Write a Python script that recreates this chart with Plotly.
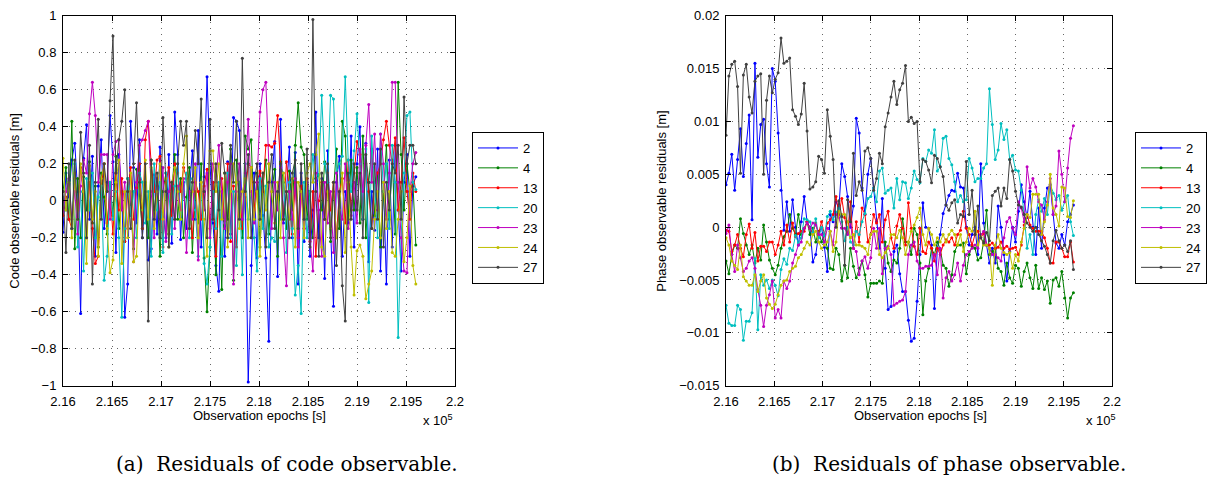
import plotly.graph_objects as go

# ---------------- data ----------------
epoch_start = 216000
epoch_step = 30
sat_names = ["2", "4", "13", "20", "23", "24", "27"]
sat_colors = ["#0000ff", "#008000", "#ff0000", "#00bfbf", "#bf00bf", "#bfbf00", "#404040"]

x_tick_vals = [216000, 216500, 217000, 217500, 218000, 218500, 219000, 219500, 220000]
x_tick_labels = ["2.16", "2.165", "2.17", "2.175", "2.18", "2.185", "2.19", "2.195", "2.2"]
code_y_ticks = [-1, -0.8, -0.6, -0.4, -0.2, 0, 0.2, 0.4, 0.6, 0.8, 1]
code_y_labels = ["\u22121", "\u22120.8", "\u22120.6", "\u22120.4", "\u22120.2", "0", "0.2", "0.4", "0.6", "0.8", "1"]
phase_y_ticks = [-0.015, -0.01, -0.005, 0, 0.005, 0.01, 0.015, 0.02]
phase_y_labels = ["\u22120.015", "\u22120.01", "\u22120.005", "0", "0.005", "0.01", "0.015", "0.02"]

# code residuals [m]
code_2 = [-0.17, 0.15, 0.02, 0.22, 0.31, 0.05, -0.61, 0.23, 0.41, -0.10,
          0.24, -0.30, 0.08, 0.33, -0.15, 0.10, 0.46, 0.21, -0.28, 0.25,
          0.05, -0.63, -0.45, 0.43, 0.18, -0.12, 0.33, -0.20, 0.05, -0.32,
          -0.26, 0.14, -0.18, 0.29, -0.06, -0.20, 0.25, -0.23, 0.48, 0.25,
          -0.21, 0.10, -0.15, 0.05, 0.27, -0.10, 0.38, -0.25, 0.13, 0.67,
          0.20, -0.12, -0.35, -0.49, 0.05, -0.30, 0.21, -0.18, 0.45, 0.43,
          0.38, -0.10, 0.02, -0.98, -0.35, 0.15, -0.31, 0.20, -0.08, -0.31,
          -0.76, 0.10, 0.32, -0.41, 0.44, -0.12, 0.05, 0.29, -0.20, 0.26,
          -0.45, 0.15, -0.22, 0.08, -0.30, -0.05, 0.48, -0.20, 0.12, -0.42,
          0.27, -0.15, -0.57, 0.10, 0.24, -0.30, 0.05, -0.12, 0.35, -0.25,
          0.20, 0.40, -0.10, 0.31, -0.33, 0.05, -0.16, 0.28, -0.38, 0.10,
          -0.45, 0.22, -0.25, 0.30, -0.05, -0.38, 0.10, 0.25, -0.30, 0.08,
          0.13]
code_4 = [0.05, 0.18, -0.10, 0.43, -0.26, 0.12, -0.20, 0.13, -0.05, 0.21,
          -0.12, 0.08, -0.25, 0.15, 0.02, -0.18, 0.10, -0.08, 0.24, -0.15,
          0.05, -0.22, 0.12, -0.02, -0.26, 0.17, 0.03, -0.15, 0.10, -0.20,
          0.22, -0.05, 0.08, -0.30, 0.05, 0.15, -0.18, 0.02, 0.25, -0.10,
          0.12, -0.20, 0.02, 0.18, -0.28, 0.05, -0.12, 0.20, -0.31, -0.60,
          -0.25, 0.10, -0.40, 0.05, -0.48, 0.15, -0.10, 0.28, -0.43, 0.22,
          0.02, -0.20, 0.35, 0.28, 0.33, -0.10, 0.15, -0.25, 0.08, 0.22,
          -0.18, 0.05, 0.17, -0.30, 0.21, 0.10, -0.15, 0.16, -0.05, 0.30,
          0.53, 0.29, 0.25, -0.10, 0.05, -0.20, 0.12, 0.14, -0.05, 0.21,
          0.10, -0.22, 0.05, 0.28, -0.15, 0.43, 0.35, -0.10, 0.22, -0.05,
          0.18, -0.12, 0.35, -0.20, 0.10, 0.28, -0.08, 0.15, -0.25, 0.05,
          0.30, -0.10, 0.22, -0.18, 0.64, 0.25, -0.05, 0.20, 0.05, 0.10,
          -0.24]
code_13 = [-0.08, 0.02, -0.10, -0.15, 0.12, -0.05, 0.18, 0.05, -0.20, 0.10,
           -0.15, -0.34, -0.30, 0.08, 0.20, -0.12, 0.05, -0.18, 0.15, -0.05,
           0.12, -0.22, 0.05, 0.18, -0.10, 0.07, 0.20, -0.15, 0.33, 0.43,
           0.20, 0.05, 0.22, 0.24, -0.25, 0.10, 0.18, -0.08, 0.20, 0.15,
           0.05, 0.18, 0.12, -0.05, -0.20, 0.10, 0.05, -0.10, 0.08, 0.17,
           -0.15, 0.10, -0.30, 0.05, 0.12, -0.12, 0.20, -0.22, 0.08, -0.25,
           0.10, -0.15, 0.05, 0.20, 0.18, -0.05, 0.10, 0.16, 0.05, 0.30,
           0.30, 0.29, 0.31, 0.46, 0.20, -0.10, 0.21, 0.05, -0.18, 0.10,
           -0.20, 0.08, -0.15, 0.12, -0.22, 0.05, -0.30, 0.00, 0.10, -0.10,
           0.15, -0.05, 0.10, -0.20, 0.05, 0.12, -0.12, 0.22, -0.05, 0.15,
           0.32, 0.25, -0.10, 0.20, 0.05, -0.15, 0.10, 0.15, 0.20, 0.33,
           0.43, 0.30, 0.20, 0.34, -0.05, 0.10, 0.34, 0.05, -0.10, 0.15,
           0.05]
code_20 = [0.02, -0.05, 0.10, -0.15, 0.20, -0.25, 0.05, -0.38, 0.12, -0.05,
           0.15, -0.20, 0.02, 0.08, -0.43, -0.30, 0.10, -0.10, 0.05, -0.20,
           -0.63, -0.15, 0.12, -0.08, 0.05, -0.20, 0.15, 0.10, -0.12, 0.05,
           -0.30, 0.20, -0.05, 0.10, -0.28, 0.15, 0.05, -0.18, 0.08, 0.20,
           -0.10, 0.05, 0.15, -0.20, 0.12, -0.05, -0.30, 0.10, -0.34, -0.45,
           -0.25, 0.05, -0.15, 0.10, -0.30, -0.12, 0.15, -0.20, 0.05, -0.35,
           0.10, -0.40, 0.20, -0.10, 0.05, -0.20, -0.38, 0.12, -0.15, 0.08,
           -0.25, -0.20, -0.22, 0.05, -0.10, 0.15, -0.28, 0.10, -0.15, -0.51,
           -0.35, -0.61, 0.10, -0.20, 0.05, 0.25, 0.10, 0.14, 0.57, 0.20,
           0.10, 0.57, 0.55, 0.15, 0.20, 0.24, 0.67, 0.22, 0.05, 0.27,
           0.47, 0.20, -0.10, 0.28, -0.55, 0.35, 0.10, -0.20, 0.36, 0.05,
           0.20, -0.15, 0.30, 0.10, -0.74, -0.20, 0.15, 0.46, 0.48, 0.10,
           0.06]
code_23 = [-0.06, 0.05, 0.12, -0.10, 0.05, -0.18, 0.08, 0.22, 0.15, 0.47,
           0.64, 0.46, 0.10, 0.25, 0.25, 0.25, -0.10, 0.25, 0.32, 0.33,
           -0.05, 0.10, -0.15, 0.05, -0.33, 0.10, 0.30, 0.33, 0.38, 0.43,
           0.05, -0.20, 0.12, -0.10, 0.18, -0.22, 0.05, 0.10, -0.15, 0.08,
           -0.05, 0.12, -0.28, 0.05, -0.10, 0.20, -0.32, 0.10, -0.05, 0.15,
           -0.20, 0.20, 0.10, 0.30, 0.05, -0.15, 0.10, 0.20, -0.45, 0.05,
           0.20, -0.10, 0.15, 0.44, 0.05, -0.12, 0.10, 0.48, 0.60, 0.64,
           0.20, -0.15, 0.10, -0.05, 0.18, -0.20, -0.46, 0.05, -0.10, 0.12,
           -0.25, 0.05, -0.15, 0.10, -0.20, -0.38, 0.15, -0.05, -0.30, 0.10,
           -0.12, 0.05, -0.28, 0.15, -0.05, -0.10, 0.20, -0.15, -0.08, 0.10,
           -0.12, 0.28, 0.05, 0.30, 0.52, 0.10, 0.36, -0.05, 0.36, 0.20,
           -0.10, 0.15, 0.64, 0.64, 0.10, -0.20, -0.38, -0.39, 0.05, 0.20,
           0.26]
code_24 = [0.23, -0.05, 0.10, -0.20, 0.15, -0.10, 0.20, 0.05, -0.34, 0.19,
           -0.10, 0.05, -0.30, 0.12, 0.20, -0.15, -0.39, -0.32, 0.10, 0.22,
           -0.34, 0.05, -0.20, 0.15, -0.33, -0.30, 0.10, -0.05, 0.22, -0.10,
           0.18, -0.15, 0.05, 0.20, -0.10, 0.12, -0.25, 0.10, 0.18, 0.05,
           -0.10, 0.20, 0.35, -0.15, 0.05, 0.18, -0.20, 0.10, -0.10, -0.30,
           0.27, 0.27, 0.05, 0.20, -0.10, 0.15, -0.25, 0.05, 0.20, 0.10,
           -0.15, 0.05, 0.12, -0.20, 0.18, -0.10, 0.05, -0.30, 0.15, -0.05,
           0.20, 0.05, -0.12, 0.10, -0.20, 0.15, 0.05, -0.10, 0.12, -0.25,
           0.10, 0.05, -0.20, 0.15, 0.20, 0.10, 0.25, 0.36, -0.25, -0.30,
           0.05, -0.15, 0.10, -0.20, -0.05, 0.15, -0.28, 0.10, -0.25, -0.51,
           -0.27, -0.24, -0.30, -0.53, -0.45, -0.38, -0.10, 0.05, -0.20, 0.10,
           -0.15, 0.05, -0.28, -0.30, -0.10, 0.05, -0.33, -0.20, 0.08, -0.35,
           -0.45]
code_27 = [0.05, -0.28, 0.20, -0.15, 0.22, -0.10, 0.37, 0.15, -0.20, 0.30,
           -0.45, 0.10, 0.44, -0.10, 0.20, 0.05, 0.54, 0.89, 0.15, 0.33,
           0.43, 0.60, 0.05, -0.15, 0.20, 0.53, 0.10, -0.20, 0.20, -0.65,
           0.22, -0.10, 0.15, -0.20, 0.45, 0.05, -0.25, 0.10, -0.10, 0.20,
           0.43, 0.30, 0.43, -0.15, 0.10, 0.38, 0.20, 0.55, 0.05, -0.20,
           0.44, -0.10, 0.20, -0.05, 0.31, 0.15, -0.20, 0.30, 0.10, 0.43,
           -0.10, 0.77, 0.05, 0.25, -0.20, 0.10, 0.20, -0.10, 0.15, -0.25,
           0.10, 0.25, -0.15, 0.05, 0.20, -0.10, 0.05, -0.20, 0.15, 0.22,
           -0.15, 0.20, -0.10, 0.28, -0.25, 0.98, 0.05, -0.30, 0.15, -0.10,
           0.20, -0.20, 0.10, -0.35, 0.05, -0.46, -0.65, 0.15, -0.10, 0.20,
           -0.05, 0.15, -0.20, 0.25, 0.10, -0.15, 0.20, -0.10, 0.28, -0.25,
           0.10, -0.05, 0.20, 0.15, 0.30, -0.10, 0.56, 0.20, 0.30, 0.30,
           0.20]

# phase residuals [m]
phase_2 = [0.0040, 0.0051, 0.0069, 0.0035, 0.0064, 0.0093, 0.0048, 0.0079, 0.0106, 0.0007,
           0.0155, 0.0066, 0.0097, 0.0102, 0.0060, 0.0038, 0.0150, 0.0138, 0.0089, 0.0035,
           -0.0003, 0.0024, -0.0004, 0.0026, 0.0000, -0.0017, 0.0005, 0.0029, 0.0005, 0.0000,
           -0.0033, -0.0026, -0.0007, 0.0000, -0.0019, -0.0042, 0.0012, 0.0005, 0.0024, 0.0018,
           0.0060, 0.0048, 0.0029, 0.0000, 0.0020, 0.0103, 0.0089, 0.0037, 0.0012, 0.0050,
           0.0065, 0.0037, 0.0005, -0.0020, 0.0027, -0.0039, -0.0078, -0.0075, -0.0023, -0.0017,
           -0.0044, -0.0061, -0.0061, -0.0088, -0.0108, -0.0105, -0.0070, -0.0026, 0.0023, 0.0000,
           -0.0001, -0.0017, -0.0077, -0.0020, -0.0007, 0.0013, 0.0021, 0.0030, 0.0035, 0.0034,
           0.0051, 0.0038, 0.0037, 0.0000, -0.0017, -0.0007, 0.0000, -0.0026, 0.0060, 0.0004,
           -0.0017, -0.0034, -0.0020, -0.0034, 0.0020, 0.0000, -0.0026, -0.0051, -0.0023, 0.0000,
           -0.0014, 0.0015, 0.0040, 0.0024, 0.0009, 0.0034, 0.0000, -0.0026, 0.0018, -0.0020,
           0.0018, 0.0037, 0.0040, 0.0012, -0.0015, -0.0020, -0.0007, -0.0017, 0.0005, 0.0012,
           0.0021]
phase_4 = [-0.0032, -0.0044, -0.0026, -0.0017, -0.0020, 0.0008, -0.0006, -0.0017, -0.0026, -0.0017,
           -0.0034, -0.0020, -0.0031, 0.0002, -0.0014, -0.0031, -0.0039, -0.0045, -0.0036, -0.0020,
           -0.0009, -0.0004, 0.0012, -0.0001, -0.0007, 0.0012, -0.0007, -0.0001, 0.0005, -0.0007,
           -0.0001, -0.0014, -0.0004, -0.0014, -0.0007, -0.0020, -0.0039, -0.0040, -0.0020, -0.0026,
           -0.0051, -0.0036, -0.0048, -0.0020, -0.0037, -0.0048, -0.0039, -0.0032, -0.0045, -0.0066,
           -0.0053, -0.0053, -0.0053, -0.0051, -0.0053, -0.0014, -0.0034, -0.0042, -0.0031, -0.0034,
           -0.0020, 0.0008, -0.0014, -0.0014, -0.0026, -0.0001, -0.0007, -0.0034, -0.0083, -0.0051,
           -0.0039, -0.0020, -0.0026, -0.0014, -0.0021, -0.0036, -0.0039, -0.0056, -0.0045, -0.0023,
           -0.0017, -0.0017, -0.0015, -0.0044, -0.0026, -0.0018, -0.0020, -0.0031, -0.0029, -0.0014,
           0.0016, -0.0026, -0.0023, -0.0020, -0.0039, -0.0042, -0.0055, -0.0034, -0.0048, -0.0053,
           -0.0036, -0.0039, -0.0056, -0.0042, -0.0034, -0.0048, -0.0058, -0.0036, -0.0058, -0.0048,
           -0.0059, -0.0051, -0.0072, -0.0050, -0.0048, -0.0056, -0.0042, -0.0067, -0.0086, -0.0067,
           -0.0062]
phase_13 = [-0.0003, -0.0004, -0.0023, -0.0017, -0.0007, -0.0020, -0.0028, -0.0007, 0.0003, -0.0020,
            -0.0005, -0.0032, -0.0018, -0.0018, -0.0023, -0.0014, -0.0014, -0.0026, -0.0017, -0.0004,
            -0.0017, 0.0002, -0.0014, 0.0004, -0.0009, -0.0006, -0.0004, -0.0004, 0.0005, -0.0001,
            -0.0006, 0.0004, -0.0006, 0.0005, -0.0007, 0.0004, 0.0007, 0.0012, 0.0029, 0.0012,
            0.0027, 0.0009, -0.0006, 0.0024, -0.0020, 0.0005, -0.0014, 0.0018, 0.0012, -0.0014,
            -0.0007, 0.0012, 0.0004, 0.0012, -0.0014, 0.0007, 0.0015, -0.0010, -0.0020, 0.0001,
            0.0012, -0.0001, -0.0017, 0.0023, -0.0001, -0.0018, -0.0026, -0.0001, -0.0023, -0.0025,
            -0.0014, -0.0020, -0.0032, -0.0020, -0.0026, -0.0017, -0.0012, -0.0014, -0.0010, -0.0017,
            -0.0007, -0.0003, 0.0015, -0.0001, -0.0007, -0.0017, -0.0007, -0.0004, -0.0010, -0.0006,
            -0.0017, -0.0017, -0.0015, -0.0020, -0.0019, -0.0014, -0.0020, -0.0018, -0.0021, -0.0020,
            -0.0019, -0.0026, -0.0017, 0.0002, 0.0012, 0.0002, -0.0001, -0.0004, -0.0004, -0.0004,
            -0.0010, -0.0020, -0.0034, -0.0034, -0.0014, -0.0014, -0.0020, -0.0028, -0.0028, -0.0014,
            -0.0033]
phase_20 = [-0.0074, -0.0091, -0.0093, -0.0093, -0.0074, -0.0078, -0.0107, -0.0089, -0.0089, -0.0081,
            -0.0030, -0.0097, -0.0045, -0.0055, -0.0050, -0.0058, -0.0050, -0.0055, -0.0065, -0.0040,
            -0.0030, -0.0035, -0.0020, -0.0022, -0.0008, -0.0015, -0.0010, 0.0008, 0.0007, 0.0005,
            -0.0005, 0.0008, -0.0010, 0.0000, -0.0008, 0.0010, 0.0015, 0.0007, 0.0014, 0.0018,
            0.0005, -0.0013, 0.0000, -0.0014, -0.0017, -0.0004, -0.0007, 0.0005, 0.0013, 0.0027,
            0.0029, 0.0037, 0.0024, 0.0053, 0.0056, 0.0032, 0.0035, 0.0037, 0.0018, 0.0046,
            0.0026, 0.0043, 0.0042, 0.0027, 0.0037, 0.0053, 0.0045, 0.0042, 0.0065, 0.0062,
            0.0073, 0.0070, 0.0092, 0.0053, 0.0057, 0.0084, 0.0086, 0.0065, 0.0059, 0.0043,
            0.0024, 0.0030, 0.0024, 0.0026, 0.0065, 0.0056, 0.0043, 0.0046, 0.0046, 0.0056,
            0.0060, 0.0131, 0.0097, 0.0064, 0.0073, 0.0098, 0.0083, 0.0092, 0.0064, 0.0068,
            0.0054, 0.0053, 0.0035, 0.0012, -0.0020, -0.0007, -0.0026, 0.0012, 0.0026, 0.0015,
            0.0027, 0.0012, 0.0040, 0.0032, 0.0026, 0.0030, 0.0016, 0.0024, 0.0030, 0.0005,
            -0.0008]
phase_23 = [-0.0006, 0.0002, -0.0026, -0.0042, -0.0017, -0.0029, -0.0042, -0.0039, -0.0032, -0.0029,
            -0.0039, -0.0059, -0.0074, -0.0094, -0.0074, -0.0064, -0.0051, -0.0086, -0.0078, -0.0086,
            -0.0051, -0.0058, -0.0051, -0.0034, -0.0026, -0.0017, -0.0014, -0.0001, 0.0004, -0.0001,
            0.0004, 0.0002, -0.0007, -0.0007, -0.0014, -0.0001, -0.0004, -0.0017, 0.0012, 0.0009,
            -0.0001, -0.0001, -0.0007, 0.0005, -0.0020, -0.0023, -0.0045, -0.0032, -0.0028, -0.0039,
            -0.0029, -0.0001, -0.0020, -0.0001, -0.0044, -0.0020, -0.0018, -0.0026, -0.0074, -0.0072,
            -0.0070, -0.0069, -0.0061, -0.0026, -0.0017, -0.0014, -0.0032, -0.0039, -0.0039, -0.0037,
            -0.0037, -0.0036, -0.0026, -0.0045, -0.0020, -0.0067, -0.0048, -0.0042, -0.0051, -0.0045,
            -0.0034, -0.0051, -0.0036, -0.0026, -0.0023, -0.0020, -0.0017, -0.0020, -0.0007, -0.0004,
            -0.0017, -0.0020, -0.0026, -0.0026, -0.0029, -0.0032, -0.0010, 0.0005, 0.0009, -0.0001,
            -0.0007, 0.0024, 0.0018, 0.0005, 0.0057, 0.0037, 0.0046, 0.0038, 0.0024, 0.0021,
            0.0007, 0.0024, 0.0046, 0.0012, 0.0020, 0.0072, 0.0050, 0.0024, 0.0056, 0.0084,
            0.0096]
phase_24 = [-0.0010, -0.0017, -0.0032, -0.0036, -0.0040, -0.0017, -0.0047, -0.0051, -0.0055, -0.0055,
            -0.0045, -0.0061, -0.0051, -0.0045, -0.0067, -0.0073, -0.0077, -0.0073, -0.0064, -0.0055,
            -0.0051, -0.0050, -0.0042, -0.0039, -0.0037, -0.0029, -0.0026, -0.0020, -0.0014, -0.0017,
            -0.0007, -0.0004, -0.0014, -0.0020, -0.0017, -0.0014, -0.0004, -0.0023, -0.0014, 0.0015,
            0.0012, 0.0012, 0.0005, -0.0010, -0.0007, -0.0017, -0.0017, -0.0018, -0.0020, -0.0026,
            -0.0007, -0.0004, -0.0004, -0.0026, -0.0029, -0.0024, -0.0020, -0.0007, -0.0007, -0.0010,
            -0.0003, -0.0010, -0.0026, -0.0014, -0.0004, 0.0002, 0.0009, 0.0018, -0.0007, -0.0017,
            -0.0001, -0.0007, -0.0017, -0.0010, -0.0014, -0.0007, -0.0014, -0.0007, -0.0003, -0.0007,
            -0.0017, -0.0007, -0.0023, -0.0014, -0.0001, -0.0004, 0.0015, -0.0017, -0.0009, -0.0017,
            -0.0017, -0.0020, -0.0055, -0.0017, -0.0007, -0.0020, -0.0024, -0.0026, -0.0024, -0.0039,
            -0.0026, -0.0032, -0.0014, -0.0001, 0.0012, 0.0009, 0.0031, 0.0031, 0.0031, -0.0007,
            0.0005, 0.0021, 0.0050, 0.0018, 0.0012, 0.0001, 0.0038, 0.0037, 0.0010, 0.0009,
            0.0025]
phase_27 = [0.0087, 0.0143, 0.0154, 0.0157, 0.0133, 0.0051, 0.0144, 0.0154, 0.0123, 0.0108,
            0.0138, 0.0143, 0.0145, 0.0050, 0.0120, 0.0143, 0.0127, 0.0140, 0.0146, 0.0179,
            0.0155, 0.0157, 0.0160, 0.0111, 0.0105, 0.0097, 0.0107, 0.0136, 0.0091, 0.0036,
            0.0038, 0.0043, 0.0067, 0.0064, 0.0051, 0.0111, 0.0086, 0.0064, 0.0000, 0.0025,
            0.0010, -0.0036, 0.0026, 0.0005, 0.0070, 0.0030, 0.0043, 0.0035, 0.0072, 0.0075,
            0.0065, 0.0035, 0.0046, 0.0070, 0.0060, 0.0095, 0.0108, 0.0123, 0.0138, 0.0116,
            0.0130, 0.0136, 0.0153, 0.0100, 0.0104, 0.0098, 0.0100, 0.0043, 0.0064, 0.0062,
            0.0054, 0.0042, 0.0068, 0.0065, 0.0057, 0.0048, 0.0021, 0.0016, 0.0023, 0.0026,
            0.0004, 0.0012, 0.0010, 0.0062, 0.0012, 0.0035, -0.0007, 0.0020, -0.0010, -0.0015,
            -0.0005, -0.0013, 0.0030, 0.0034, 0.0037, 0.0020, 0.0037, 0.0027, 0.0064, 0.0053,
            0.0034, 0.0021, 0.0019, 0.0012, 0.0004, 0.0000, -0.0004, 0.0000, -0.0007, -0.0013,
            -0.0018, -0.0026, -0.0034, -0.0013, -0.0003, -0.0013, -0.0020, -0.0017, -0.0023, -0.0013,
            -0.0040]

code_series = [code_2, code_4, code_13, code_20, code_23, code_24, code_27]
phase_series = [phase_2, phase_4, phase_13, phase_20, phase_23, phase_24, phase_27]

# ---------------- figure ----------------
W, H = 1213, 479
fig = go.Figure()

def epochs_for(values):
    return [epoch_start + epoch_step * k for k in range(len(values))]

for name, col, vals in zip(sat_names, sat_colors, code_series):
    fig.add_trace(go.Scatter(x=epochs_for(vals), y=vals, name=name, mode="lines+markers",
                             line=dict(color=col, width=1), marker=dict(color=col, size=3),
                             xaxis="x", yaxis="y", legend="legend"))
for name, col, vals in zip(sat_names, sat_colors, phase_series):
    fig.add_trace(go.Scatter(x=epochs_for(vals), y=vals, name=name, mode="lines+markers",
                             line=dict(color=col, width=1), marker=dict(color=col, size=3),
                             xaxis="x2", yaxis="y2", legend="legend2"))

def px_x(p):
    return p / W

def px_y(p):
    return 1 - p / H

tick_font = dict(family="Liberation Sans, Arial, sans-serif", size=13, color="black")
ax_common = dict(showline=True, linecolor="black", linewidth=1, mirror="ticks",
                 ticks="inside", ticklen=5, tickcolor="black", tickfont=tick_font,
                 showgrid=True, gridcolor="rgba(0,0,0,0.6)", gridwidth=1, griddash="1px,5px",
                 zeroline=False, automargin=False)

left_dom = [px_x(63), px_x(455)]
right_dom = [px_x(726), px_x(1112)]
y_dom = [px_y(385.7), px_y(15.7)]

legend_font = dict(family="Liberation Sans, Arial, sans-serif", size=13, color="black")
legend_common = dict(xanchor="left", yanchor="top", bordercolor="black", borderwidth=1,
                     bgcolor="white", font=legend_font, tracegroupgap=0, itemwidth=40,
                     entrywidth=30, entrywidthmode="pixels")
fig.update_layout(
    width=W, height=H,
    margin=dict(l=0, r=0, t=0, b=0, autoexpand=False),
    paper_bgcolor="white", plot_bgcolor="white",
    xaxis=dict(domain=left_dom, range=[216000, 220000], tickvals=x_tick_vals, ticktext=x_tick_labels,
               anchor="y", ticklabelstandoff=4, **ax_common),
    yaxis=dict(domain=y_dom, range=[-1, 1], tickvals=code_y_ticks, ticktext=code_y_labels,
               anchor="x", ticklabelstandoff=3, **ax_common),
    xaxis2=dict(domain=right_dom, range=[216000, 220000], tickvals=x_tick_vals, ticktext=x_tick_labels,
                anchor="y2", ticklabelstandoff=4, **ax_common),
    yaxis2=dict(domain=y_dom, range=[-0.015, 0.02], tickvals=phase_y_ticks, ticktext=phase_y_labels,
                anchor="x2", ticklabelstandoff=3, **ax_common),
    legend=dict(x=px_x(472), y=px_y(132), **legend_common),
    legend2=dict(x=px_x(1135), y=px_y(132), **legend_common),
    showlegend=True,
)

label_font = dict(family="Liberation Sans, Arial, sans-serif", size=13, color="black")
caption_font = dict(family="DejaVu Serif, Liberation Serif, serif", size=20, color="black")
ann = []
# x-axis titles
ann.append(dict(text="Observation epochs [s]", x=px_x(259), y=px_y(415), xref="paper", yref="paper",
                showarrow=False, font=label_font, xanchor="center", yanchor="middle"))
ann.append(dict(text="Observation epochs [s]", x=px_x(920), y=px_y(415), xref="paper", yref="paper",
                showarrow=False, font=label_font, xanchor="center", yanchor="middle"))
# y-axis titles
ann.append(dict(text="Code observable residuals [m]", x=px_x(15), y=px_y(200.7), xref="paper", yref="paper",
                showarrow=False, font=label_font, textangle=-90, xanchor="center", yanchor="middle"))
ann.append(dict(text="Phase observable residuals [m]", x=px_x(662), y=px_y(200.7), xref="paper", yref="paper",
                showarrow=False, font=label_font, textangle=-90, xanchor="center", yanchor="middle"))
# exponent labels
ann.append(dict(text="x 10<sup>5</sup>", x=px_x(455), y=px_y(420), xref="paper", yref="paper",
                showarrow=False, font=label_font, xanchor="right", yanchor="middle"))
ann.append(dict(text="x 10<sup>5</sup>", x=px_x(1118), y=px_y(420), xref="paper", yref="paper",
                showarrow=False, font=label_font, xanchor="right", yanchor="middle"))
# captions
ann.append(dict(text="(a)  Residuals of code observable.", x=px_x(287), y=px_y(464), xref="paper", yref="paper",
                showarrow=False, font=caption_font, xanchor="center", yanchor="middle"))
ann.append(dict(text="(b)  Residuals of phase observable.", x=px_x(949), y=px_y(464), xref="paper", yref="paper",
                showarrow=False, font=caption_font, xanchor="center", yanchor="middle"))
fig.update_layout(annotations=ann)

fig.write_html("out.html")
